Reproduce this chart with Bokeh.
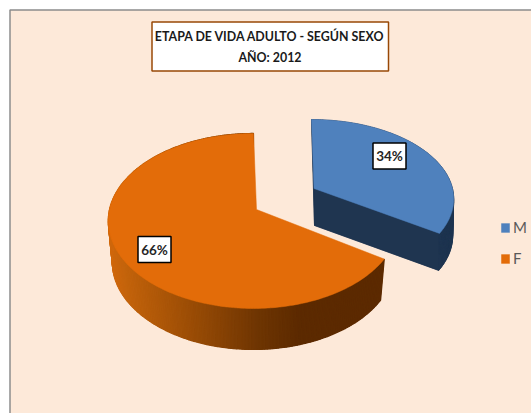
import numpy as np
from bokeh.plotting import figure
from bokeh.models import Legend, LegendItem
from bokeh.core.properties import value
from bokeh.embed import file_html
from bokeh.resources import INLINE

# Data
categories = ["M", "F"]
shares = [34, 66]
labels = ["34%", "66%"]
title_lines = ["ETAPA DE VIDA ADULTO - SEGÚN SEXO", "AÑO: 2012"]

# Style
BG = "#FDE9D9"; BLUE = "#4F81BD"; NAVY = "#1F3550"; ORANGE = "#E36C09"
FONT_NAME = "Lato"
FONT = value(FONT_NAME)
K = 0.131


def rim(t0, t1, cx, cy, a, b, n=120):
    t = np.linspace(t0, t1, n)
    u, v = np.sin(t), np.cos(t)
    d = 1 + K * v
    return cx + a * u / d, cy - b * v / d


p = figure(width=531, height=413, x_range=(0, 531), y_range=(413, 0),
           output_backend="svg", toolbar_location=None, min_border=0,
           background_fill_color="white", border_fill_color="white")
p.axis.visible = False
p.grid.visible = False
p.outline_line_color = None

# Background panel with its grey edge
p.quad(left=[9.5], right=[600], top=[9.5], bottom=[500], fill_color=BG,
       line_color="#8C8C8C", line_width=1.5)

fracs = np.array(shares) / sum(shares)
split = 2 * np.pi * fracs[0]

# --- M slice (exploded)
mx, my = rim(0, split, 311, 188, 141, 78)
mbx, mby = rim(0, split, 312, 225, 139, 78)
m_ax, m_ay, m_bax, m_bay = 313.5, 188, 314, 225
xs = [list(mbx) + [m_bax]]
ys = [list(mby) + [m_bay]]
xs.append([m_ax, mx[-1], mbx[-1], m_bax]); ys.append([m_ay, my[-1], mby[-1], m_bay])
xs.append([m_ax, mx[0], mbx[0], m_bax]); ys.append([m_ay, my[0], mby[0], m_bay])
for i in range(len(mx) - 1):
    xs.append([mx[i], mx[i + 1], mbx[i + 1], mbx[i]])
    ys.append([my[i], my[i + 1], mby[i + 1], mby[i]])
p.patches(xs, ys, fill_color=NAVY, line_color=NAVY, line_width=0.5)

# --- F slice wall with shading
fx, fy = rim(split, 2 * np.pi, 253, 209, 144, 86, n=240)
fbx, fby = rim(split, 2 * np.pi, 253, 250, 140, 86, n=240)
stops_x = [108, 123, 190, 257, 300, 382]
stops_rgb = np.array([[0xD0, 0x68, 0x0C], [0xC4, 0x64, 0x0C], [0x9B, 0x4D, 0x06],
                      [0x6F, 0x36, 0x03], [0x5C, 0x2A, 0x00], [0x5C, 0x2A, 0x00]])
# base wall first so that anti-aliased seams never show the page through
p.patch(list(fx) + list(fbx[::-1]), list(fy) + list(fby[::-1]), fill_color="#7E3E03", line_color=None)
wx, wy, wc = [], [], []
for i in range(len(fx) - 1):
    mid = (fx[i] + fx[i + 1]) / 2
    c = [int(np.interp(mid, stops_x, stops_rgb[:, j])) for j in range(3)]
    wx.append([fx[i], fx[i + 1], fbx[i + 1], fbx[i]])
    wy.append([fy[i], fy[i + 1], fby[i + 1], fby[i]])
    wc.append("#%02X%02X%02X" % tuple(c))
p.patches(wx, wy, fill_color=wc, line_color=wc, line_width=1.2)

# --- Top faces
r_f = p.patch(list(fx) + [256], list(fy) + [209], fill_color=ORANGE, line_color=ORANGE, line_width=0.5)
r_m = p.patch(list(mx) + [m_ax], list(my) + [m_ay], fill_color=BLUE, line_color=BLUE, line_width=0.5)

# --- Data labels
lab_x = [389, 154]
lab_y = [155.5, 249]
p.rect(lab_x, lab_y, width=33, height=26, fill_color="white", line_color="black", line_width=1.5)
p.text(lab_x, lab_y, text=labels, text_font=FONT, text_font_style="bold", text_font_size="13.5px",
       text_align="center", text_baseline="middle", text_color="#262626")

# --- Title box
p.quad(left=[151.5], right=[388], top=[21.5], bottom=[70.5], fill_color="white",
       line_color="#984806", line_width=1.5)
p.text([269.5, 269.5], [36, 57], text=title_lines, text_font=FONT, text_font_style="bold",
       text_font_size="12.4px", text_align="center", text_baseline="middle", text_color="#1A1A1A")

# --- Legend
legend = Legend(items=[LegendItem(label=categories[0], renderers=[r_m]),
                       LegendItem(label=categories[1], renderers=[r_f])],
                location=(500, 146), orientation="vertical",
                background_fill_alpha=0, border_line_alpha=0, margin=0, padding=0,
                glyph_width=10, glyph_height=11, spacing=13, label_standoff=3,
                label_text_font=FONT_NAME,
                label_text_font_size="15px", label_text_color="#595959", label_height=10)
p.add_layout(legend)

open("out.html", "w").write(file_html(p, INLINE))
